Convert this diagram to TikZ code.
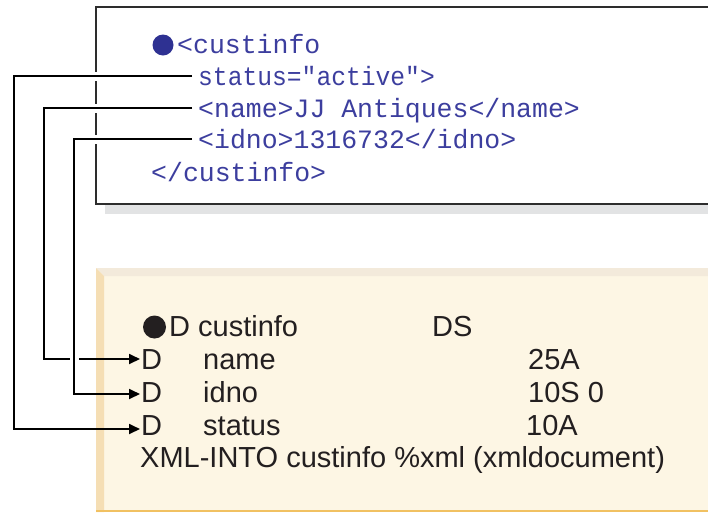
\documentclass[tikz,border=0pt]{standalone}
\usepackage{fontspec}
\setmainfont{Liberation Sans}
\newfontfamily\codefont{Liberation Mono}
\usetikzlibrary{arrows.meta}
\definecolor{xmlblue}{RGB}{60,62,158}
\definecolor{bulletblue}{RGB}{46,49,146}
\definecolor{boxline}{RGB}{45,45,45}
\definecolor{shadowgray}{RGB}{226,227,228}
\definecolor{cream}{RGB}{253,246,228}
\definecolor{creamtop}{RGB}{243,234,219}
\definecolor{creamleft}{RGB}{245,222,180}
\definecolor{creambottom}{RGB}{241,193,98}
\definecolor{ink}{RGB}{35,31,32}
\tikzset{
  codetext/.style={anchor=base west, inner sep=0pt, text=xmlblue, font=\codefont\fontsize{26.5}{30}\selectfont},
  rpgtext/.style={anchor=base west, inner sep=0pt, text=ink, font=\fontsize{29}{33}\selectfont},
  conn/.style={draw=black, line width=1.8pt, -{Triangle[length=11pt,width=10pt]}},
  halo/.style={draw=white, line width=9pt},
  dot/.style={circle, inner sep=0pt, minimum size=#1},
}
\begin{document}
\begin{tikzpicture}[x=1pt,y=-1pt]
\useasboundingbox (0,0) rectangle (708,512);
% ---- top XML box
\fill[shadowgray] (105,205) rectangle (708,214);
\draw[boxline, line width=2pt] (708,7) -- (96,7) -- (96,204) -- (708,204);
\node[dot=21pt, fill=bulletblue] (bblue) at (163,45) {};
\node[codetext] (t0) at (177,53) {<custinfo};
\node[codetext] (t1) at (198,85) {\scalebox{0.93}[1]{status="active">}};
\node[codetext] (t2) at (198,117) {<name>JJ Antiques</name>};
\node[codetext] (t3) at (198,148) {<idno>1316732</idno>};
\node[codetext] (t4) at (151,181) {</custinfo>};
% ---- lower RPG box
\fill[cream] (96,268) rectangle (708,512);
\fill[creamtop] (96,268) -- (708,268) -- (708,276) -- (104,276) -- cycle;
\fill[creamleft] (96,268) -- (104,276) -- (104,512) -- (96,512) -- cycle;
\draw[creambottom, line width=2pt] (96,511) -- (708,511);
\node[dot=23pt, fill=ink] (bblack) at (154.5,327) {};
\node[rpgtext] (r0) at (169,336) {D custinfo};
\node[rpgtext] (r0b) at (432,336) {DS};
\node[rpgtext] (dName) at (141,369) {D};
\node[rpgtext] (nName) at (203,369) {name};
\node[rpgtext] (tName) at (528,369) {25A};
\node[rpgtext] (dIdno) at (141,402) {D};
\node[rpgtext] (nIdno) at (203,402) {idno};
\node[rpgtext] (tIdno) at (528,402) {10S 0};
\node[rpgtext] (dStat) at (141,435) {D};
\node[rpgtext] (nStat) at (203,435) {status};
\node[rpgtext] (tStat) at (526,435) {10A};
\node[rpgtext] (xml) at (140,467) {XML-INTO custinfo \%xml (xmldocument)};
% ---- connectors
\coordinate (laneA) at (14,0);
\coordinate (laneB) at (44,0);
\coordinate (laneC) at (74,0);
\coordinate (sStat) at ([shift={(-6pt,9pt)}]t1.base west);
\coordinate (sName) at ([shift={(-6pt,9pt)}]t2.base west);
\coordinate (sIdno) at ([shift={(-6pt,9pt)}]t3.base west);
\coordinate (eName) at ([shift={(-1pt,10pt)}]dName.base west);
\coordinate (eIdno) at ([shift={(-1pt,8pt)}]dIdno.base west);
\coordinate (eStat) at ([shift={(-1pt,6pt)}]dStat.base west);
% name
\draw[halo] (sName) -- (sName -| laneB) -- (laneB |- eName);
\draw[conn] (sName) -- (sName -| laneB) -- (laneB |- eName) -- (eName);
% idno
\draw[halo] (sIdno) -- (sIdno -| laneC) -- (laneC |- eIdno);
\draw[conn] (sIdno) -- (sIdno -| laneC) -- (laneC |- eIdno) -- (eIdno);
% status
\draw[halo] (sStat) -- (sStat -| laneA) -- (laneA |- eStat);
\draw[conn] (sStat) -- (sStat -| laneA) -- (laneA |- eStat) -- (eStat);
\end{tikzpicture}
\end{document}
